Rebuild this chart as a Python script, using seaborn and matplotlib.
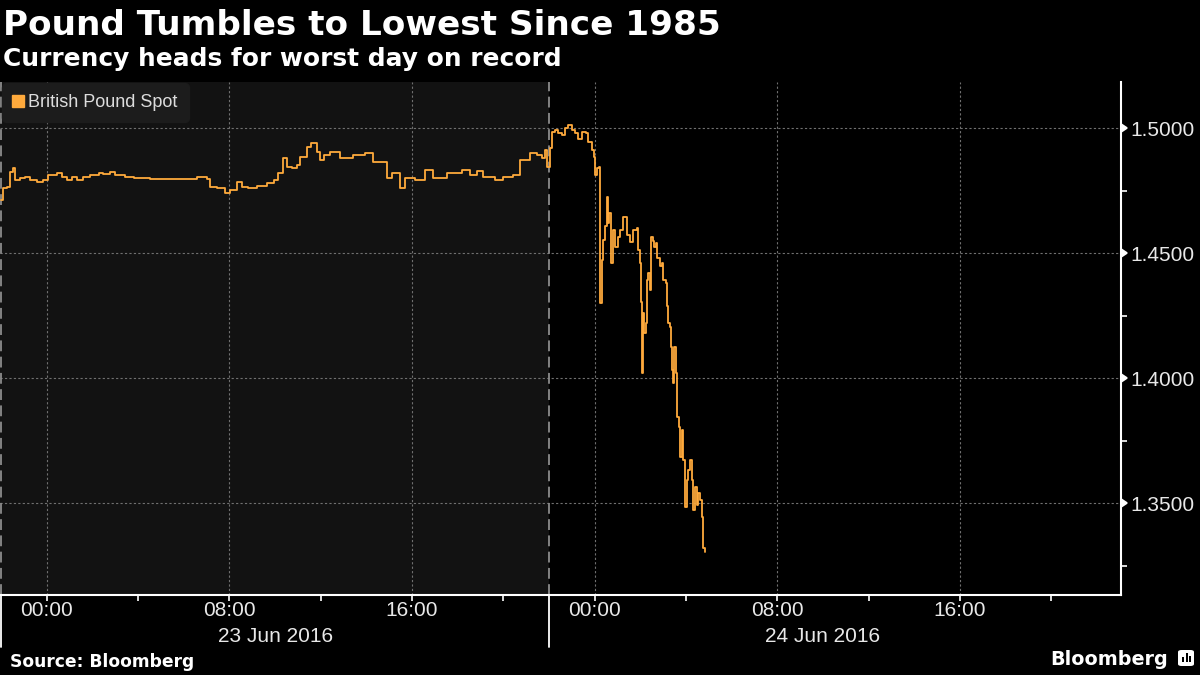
import matplotlib
matplotlib.use("Agg")
import matplotlib.pyplot as plt
import matplotlib.dates as mdates
import matplotlib.transforms as mtransforms
from matplotlib.lines import Line2D
from matplotlib.patches import FancyBboxPatch, Rectangle
import matplotlib.markers as mmarkers
import seaborn as sns
import pandas as pd

# ---------------- data ----------------
title = "Pound Tumbles to Lowest Since 1985"
subtitle = "Currency heads for worst day on record"
source = "Source: Bloomberg"
series_name = "British Pound Spot"

times = [
    "06-22 22:00", "06-22 22:06", "06-22 22:15", "06-22 22:24", "06-22 22:32", "06-22 22:37",
    "06-22 22:50", "06-22 23:03", "06-22 23:16", "06-22 23:34", "06-22 23:51",
    "06-23 00:04", "06-23 00:26", "06-23 00:39", "06-23 00:53", "06-23 01:06", "06-23 01:19",
    "06-23 01:36", "06-23 01:54", "06-23 02:16", "06-23 02:29", "06-23 02:45", "06-23 02:59",
    "06-23 03:26", "06-23 03:48", "06-23 04:31", "06-23 05:15", "06-23 05:59", "06-23 06:34",
    "06-23 07:00", "06-23 07:09", "06-23 07:27", "06-23 07:49", "06-23 08:02", "06-23 08:19",
    "06-23 08:32", "06-23 08:50", "06-23 09:12", "06-23 09:38", "06-23 09:56", "06-23 10:09",
    "06-23 10:20", "06-23 10:31", "06-23 10:44", "06-23 10:57", "06-23 11:06", "06-23 11:23",
    "06-23 11:34", "06-23 11:50", "06-23 11:58", "06-23 12:09", "06-23 12:25", "06-23 12:51",
    "06-23 13:26", "06-23 13:57", "06-23 14:18", "06-23 14:36", "06-23 14:54", "06-23 15:07",
    "06-23 15:29", "06-23 15:42", "06-23 16:08", "06-23 16:34", "06-23 16:56", "06-23 17:31",
    "06-23 18:11", "06-23 18:32", "06-23 18:50", "06-23 19:07", "06-23 19:38", "06-23 20:00",
    "06-23 20:26", "06-23 20:44", "06-23 21:10", "06-23 21:28", "06-23 21:41", "06-23 21:50",
    "06-23 21:54", "06-23 22:03", "06-23 22:07", "06-23 22:16", "06-23 22:25", "06-23 22:33",
    "06-23 22:42", "06-23 22:51", "06-23 23:00", "06-23 23:08", "06-23 23:17", "06-23 23:26",
    "06-23 23:37", "06-23 23:43", "06-23 23:52", "06-23 23:59",
    "06-24 00:01", "06-24 00:05", "06-24 00:12", "06-24 00:14", "06-24 00:19", "06-24 00:23",
    "06-24 00:27", "06-24 00:33", "06-24 00:36", "06-24 00:39", "06-24 00:42", "06-24 00:49",
    "06-24 00:54", "06-24 01:02", "06-24 01:07", "06-24 01:14", "06-24 01:24", "06-24 01:33",
    "06-24 01:42", "06-24 01:51", "06-24 01:55", "06-24 01:59", "06-24 02:02", "06-24 02:05",
    "06-24 02:07", "06-24 02:10", "06-24 02:15", "06-24 02:18", "06-24 02:21", "06-24 02:26",
    "06-24 02:28", "06-24 02:33", "06-24 02:36", "06-24 02:41", "06-24 02:45", "06-24 02:52",
    "06-24 02:56", "06-24 03:00", "06-24 03:08", "06-24 03:11", "06-24 03:14", "06-24 03:18",
    "06-24 03:20", "06-24 03:23", "06-24 03:25", "06-24 03:29", "06-24 03:34", "06-24 03:36",
    "06-24 03:37", "06-24 03:43", "06-24 03:44", "06-24 03:49", "06-24 03:53", "06-24 03:58",
    "06-24 04:02", "06-24 04:06", "06-24 04:11", "06-24 04:15", "06-24 04:19", "06-24 04:24",
    "06-24 04:28", "06-24 04:32", "06-24 04:37", "06-24 04:41", "06-24 04:44", "06-24 04:50",
]

values = [
    1.4713, 1.4760, 1.4766, 1.4826, 1.4840, 1.4793,
    1.4800, 1.4806, 1.4793, 1.4786, 1.4793,
    1.4813, 1.4820, 1.4806, 1.4793, 1.4806, 1.4793,
    1.4806, 1.4813, 1.4822, 1.4817, 1.4826, 1.4813,
    1.4804, 1.4800, 1.4797, 1.4797, 1.4796, 1.4804,
    1.4797, 1.4766, 1.4760, 1.4740, 1.4753, 1.4786,
    1.4766, 1.4760, 1.4770, 1.4780, 1.4793, 1.4820,
    1.4880, 1.4845, 1.4843, 1.4853, 1.4887, 1.4927,
    1.4942, 1.4906, 1.4873, 1.4893, 1.4904, 1.4880,
    1.4893, 1.4900, 1.4866, 1.4866, 1.4800, 1.4820,
    1.4760, 1.4800, 1.4793, 1.4833, 1.4800, 1.4820,
    1.4833, 1.4813, 1.4830, 1.4806, 1.4793, 1.4806,
    1.4813, 1.4873, 1.4900, 1.4893, 1.4880, 1.4913,
    1.4846, 1.4920, 1.4986, 1.4993, 1.4980, 1.4973,
    1.5000, 1.5013, 1.4993, 1.4980, 1.4956, 1.4986,
    1.4980, 1.4946, 1.4913, 1.4887,
    1.4813, 1.4840, 1.4846, 1.4300, 1.4473, 1.4553,
    1.4607, 1.4727, 1.4620, 1.4660, 1.4460, 1.4593,
    1.4526, 1.4566, 1.4593, 1.4647, 1.4573, 1.4546,
    1.4593, 1.4600, 1.4513, 1.4460, 1.4306, 1.4020,
    1.4260, 1.4180, 1.4220, 1.4393, 1.4420, 1.4353,
    1.4566, 1.4550, 1.4526, 1.4540, 1.4480, 1.4447,
    1.4460, 1.4393, 1.4380, 1.4287, 1.4220, 1.4206,
    1.4126, 1.4033, 1.3980, 1.4126, 1.4020, 1.3940,
    1.3846, 1.3806, 1.3686, 1.3793, 1.3673, 1.3486,
    1.3593, 1.3633, 1.3673, 1.3593, 1.3473, 1.3566,
    1.3493, 1.3540, 1.3513, 1.3446, 1.3320, 1.3306,
]

y_major = [1.35, 1.40, 1.45, 1.50]
y_minor = [1.325, 1.375, 1.425, 1.475]
day_labels = ["23 Jun 2016", "24 Jun 2016"]
day_centers = ["2016-06-23 10:00", "2016-06-24 10:00"]
day_bounds = ["2016-06-22 22:00", "2016-06-23 22:00"]
x_range = ["2016-06-22 21:57", "2016-06-24 23:03"]
y_range = [1.3133, 1.5185]

# ---------------- style ----------------
ORANGE = "#FFAA3C"
BG = "black"
SHADE = "#121212"
TXT = "#e8e8e8"

sns.set_theme(style="ticks", rc={
    "axes.facecolor": BG, "figure.facecolor": BG, "savefig.facecolor": BG,
    "axes.edgecolor": "white", "text.color": TXT,
    "xtick.color": "white", "ytick.color": "white",
})
plt.rcParams["font.family"] = ["Liberation Sans", "DejaVu Sans"]

fig = plt.figure(figsize=(12, 6.75), dpi=100)
ax = fig.add_axes([0.0, 80 / 675, 1120.8 / 1200, 513 / 675])

df = pd.DataFrame({
    "time": pd.to_datetime(["2016-" + t for t in times]),
    "value": values,
})

xr = pd.to_datetime(x_range)
bounds = pd.to_datetime(day_bounds)

ax.axvspan(xr[0], bounds[1], color=SHADE, lw=0, zorder=0)
for b in bounds:
    ax.axvline(b, color="#8c8c8c", lw=1.3, ls=(0, (6, 3)), zorder=1)

sns.lineplot(data=df, x="time", y="value", ax=ax, color=ORANGE, lw=1.3,
             drawstyle="steps-post", estimator=None, legend=False, zorder=3)

ax.set_xlim(xr[0], xr[1])
ax.set_ylim(*y_range)
ax.set_xlabel("")
ax.set_ylabel("")

# spines
ax.spines["left"].set_visible(False)
ax.spines["top"].set_visible(False)
ax.spines["bottom"].set_color("white")
ax.spines["right"].set_color("white")
ax.spines["bottom"].set_linewidth(1.5)
ax.spines["right"].set_linewidth(1.5)

# x axis
ax.xaxis.set_major_locator(mdates.HourLocator(byhour=[0, 8, 16]))
ax.xaxis.set_minor_locator(mdates.HourLocator(byhour=[4, 12, 20]))
ax.xaxis.set_major_formatter(mdates.DateFormatter("%H:%M"))
ax.tick_params(axis="x", which="both", direction="out", length=4.5, width=1.2,
               color="white", labelsize=15, labelcolor=TXT, pad=0)

# y axis on the right
ax.yaxis.tick_right()
ax.set_yticks(y_major)
ax.set_yticks(y_minor, minor=True)
ax.set_yticklabels([f"{v:.4f}" for v in y_major])
ax.tick_params(axis="y", which="major", length=0, pad=7, labelsize=15, labelcolor=TXT)
ax.tick_params(axis="y", which="minor", length=4, width=1.2, color="white")

ax.grid(True, which="major", color="#707070", lw=0.8, ls=(0, (2, 2)))

for t in ax.yaxis.get_major_ticks():
    t.tick2line.set_marker(mmarkers.CARETRIGHTBASE)
    t.tick2line.set_markersize(6)
    t.tick2line.set_markerfacecolor("white")
    t.tick2line.set_markeredgecolor("white")
    t.tick2line.set_visible(True)

# date labels and separators under the axis
trans = mtransforms.blended_transform_factory(ax.transData, ax.transAxes)
for lab, c in zip(day_labels, pd.to_datetime(day_centers)):
    ax.text(c, -0.0916, lab, transform=trans, ha="center", va="baseline",
            fontsize=15, color=TXT)
for b in bounds:
    ax.plot([b, b], [0, -0.101], transform=trans, color="white", lw=1.3,
            clip_on=False, zorder=5)

# legend
handle = Line2D([], [], marker="s", ls="None", color=ORANGE, markersize=8)
leg = ax.legend([handle], [series_name], loc="upper left",
                bbox_to_anchor=(0.002, 0.998), borderaxespad=0.0,
                frameon=True, fancybox=True, facecolor="#1c1c1c",
                edgecolor="#1c1c1c", framealpha=1.0, fontsize=13,
                labelcolor="#dddddd", handlelength=0.5, handletextpad=0.35,
                borderpad=0.6)
leg.get_frame().set_boxstyle("round,pad=0,rounding_size=0.25")

# titles and footer
fig.text(3 / 1200, 1 - 35 / 675, title, fontsize=24.7, fontweight="bold",
         color="white", family="DejaVu Sans", va="baseline", ha="left")
fig.text(3 / 1200, 1 - 66 / 675, subtitle, fontsize=17.9, fontweight="bold",
         color="white", family="DejaVu Sans", va="baseline", ha="left")
fig.text(10 / 1200, 1 - 667 / 675, source, fontsize=12.3, fontweight="bold",
         color="white", family="DejaVu Sans", va="baseline", ha="left")
fig.text(1168 / 1200, 1 - 665 / 675, "Bloomberg", fontsize=13.8, fontweight="bold",
         color="white", family="DejaVu Sans", va="baseline", ha="right")

# small logo icon
icon = FancyBboxPatch((1178 / 1200, 1 - 666 / 675), 16 / 1200, 16 / 675,
                      boxstyle="round,pad=0,rounding_size=0.003",
                      transform=fig.transFigure, facecolor="white",
                      edgecolor="none")
fig.patches.append(icon)
for bx, bh in zip([1182, 1185.5, 1189], [5, 9, 6]):
    fig.patches.append(Rectangle((bx / 1200, 1 - 662 / 675), 2 / 1200, bh / 675,
                                 transform=fig.transFigure, facecolor="black",
                                 edgecolor="none"))

fig.savefig("out.png", dpi=100, facecolor=BG)
